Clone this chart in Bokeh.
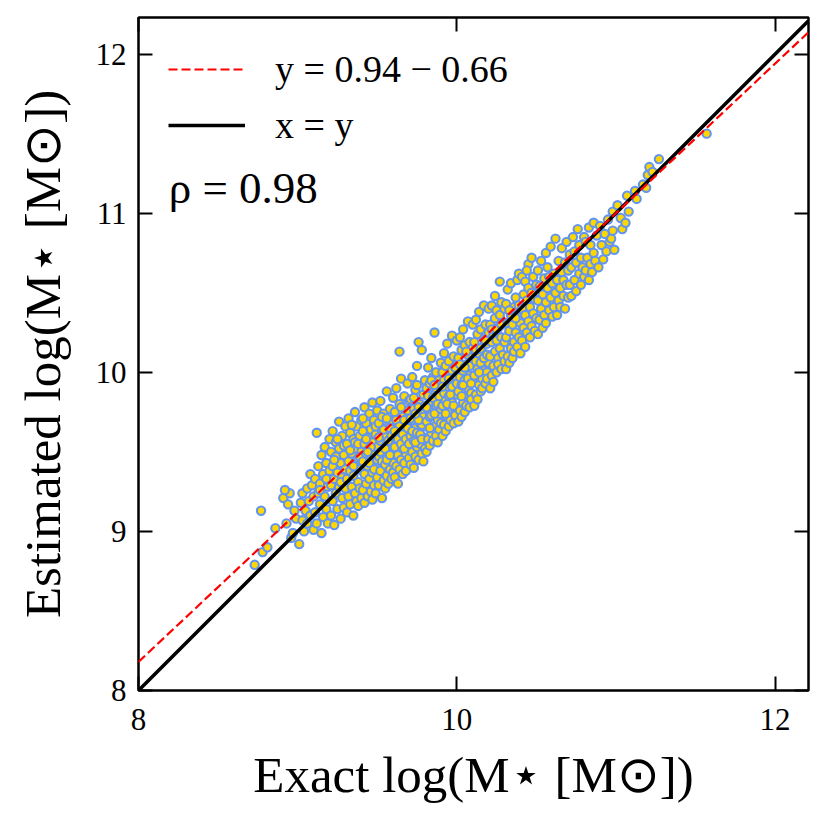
from bokeh.plotting import figure
from bokeh.models import Range1d, LinearAxis, FixedTicker, Legend, LegendItem, Label
from bokeh.embed import file_html
from bokeh.resources import INLINE

# ---- data (log stellar masses) ----
exact_logm = [
    8.73, 8.77, 8.78, 8.86, 8.81,
    8.91, 8.93, 8.95, 8.96, 8.97, 8.98, 8.99, 8.94, 8.92,
    9.01, 9.02, 9.03, 9.03, 9.04, 9.05, 9.06, 9.06, 9.07, 9.08, 9.08, 9.09, 9.10, 9.10,
    9.11, 9.11, 9.12, 9.12, 9.13, 9.13, 9.14, 9.14, 9.15, 9.15, 9.16, 9.16, 9.17, 9.17, 9.18, 9.18, 9.19, 9.19, 9.20, 9.20, 9.14, 9.18,
    9.21, 9.21, 9.21, 9.22, 9.22, 9.22, 9.23, 9.23, 9.24, 9.24, 9.24, 9.25, 9.25, 9.26, 9.26, 9.26, 9.27, 9.27, 9.28, 9.28, 9.28, 9.29, 9.29, 9.30, 9.30, 9.30, 9.23, 9.25, 9.27, 9.29,
    9.31, 9.31, 9.31, 9.32, 9.32, 9.32, 9.33, 9.33, 9.33, 9.34, 9.34, 9.35, 9.35, 9.35, 9.36, 9.36, 9.36, 9.37, 9.37, 9.37, 9.38, 9.38, 9.38, 9.39, 9.39, 9.39, 9.40, 9.40, 9.40, 9.34, 9.36, 9.33, 9.38, 9.35, 9.39,
    9.41, 9.41, 9.41, 9.42, 9.42, 9.42, 9.42, 9.43, 9.43, 9.43, 9.44, 9.44, 9.44, 9.45, 9.45, 9.45, 9.46, 9.46, 9.46, 9.47, 9.47, 9.47, 9.47, 9.48, 9.48, 9.48, 9.49, 9.49, 9.49, 9.50, 9.50, 9.50, 9.43, 9.45, 9.46, 9.48, 9.44, 9.50, 9.41, 9.49,
    9.51, 9.51, 9.51, 9.52, 9.52, 9.52, 9.53, 9.53, 9.53, 9.54, 9.54, 9.54, 9.55, 9.55, 9.55, 9.56, 9.56, 9.56, 9.57, 9.57, 9.57, 9.58, 9.58, 9.58, 9.59, 9.59, 9.59, 9.60, 9.60, 9.60, 9.52, 9.54, 9.55, 9.56, 9.57, 9.58, 9.59, 9.53, 9.56, 9.60, 9.51, 9.58,
    9.61, 9.61, 9.61, 9.62, 9.62, 9.62, 9.63, 9.63, 9.63, 9.64, 9.64, 9.64, 9.65, 9.65, 9.65, 9.66, 9.66, 9.66, 9.67, 9.67, 9.67, 9.68, 9.68, 9.68, 9.69, 9.69, 9.69, 9.70, 9.70, 9.70, 9.62, 9.63, 9.64, 9.65, 9.66, 9.67, 9.68, 9.69, 9.65, 9.67, 9.61, 9.70, 9.64,
    9.71, 9.71, 9.71, 9.72, 9.72, 9.72, 9.73, 9.73, 9.73, 9.74, 9.74, 9.74, 9.75, 9.75, 9.75, 9.76, 9.76, 9.76, 9.77, 9.77, 9.77, 9.78, 9.78, 9.78, 9.79, 9.79, 9.79, 9.80, 9.80, 9.80, 9.72, 9.73, 9.74, 9.75, 9.76, 9.77, 9.78, 9.79, 9.71, 9.75, 9.76, 9.78, 9.80, 9.74,
    9.81, 9.81, 9.81, 9.82, 9.82, 9.82, 9.83, 9.83, 9.83, 9.84, 9.84, 9.84, 9.85, 9.85, 9.85, 9.86, 9.86, 9.86, 9.87, 9.87, 9.87, 9.88, 9.88, 9.88, 9.89, 9.89, 9.89, 9.90, 9.90, 9.90, 9.82, 9.83, 9.84, 9.85, 9.86, 9.87, 9.88, 9.89, 9.81, 9.84, 9.86, 9.90,
    9.91, 9.91, 9.91, 9.92, 9.92, 9.92, 9.93, 9.93, 9.93, 9.94, 9.94, 9.94, 9.95, 9.95, 9.95, 9.96, 9.96, 9.96, 9.97, 9.97, 9.97, 9.98, 9.98, 9.98, 9.99, 9.99, 9.99, 10.00, 10.00, 10.00, 9.92, 9.93, 9.94, 9.95, 9.96, 9.97, 9.98, 9.99, 9.91, 10.00,
    10.01, 10.01, 10.01, 10.02, 10.02, 10.02, 10.03, 10.03, 10.03, 10.04, 10.04, 10.04, 10.05, 10.05, 10.05, 10.06, 10.06, 10.06, 10.07, 10.07, 10.07, 10.08, 10.08, 10.08, 10.09, 10.09, 10.09, 10.10, 10.10, 10.10, 10.02, 10.03, 10.04, 10.06, 10.07, 10.08, 10.09, 10.05,
    10.11, 10.11, 10.11, 10.12, 10.12, 10.12, 10.13, 10.13, 10.13, 10.14, 10.14, 10.14, 10.15, 10.15, 10.15, 10.16, 10.16, 10.16, 10.17, 10.17, 10.17, 10.18, 10.18, 10.18, 10.19, 10.19, 10.19, 10.20, 10.20, 10.20, 10.12, 10.14, 10.15, 10.17, 10.18, 10.19,
    10.21, 10.21, 10.21, 10.22, 10.22, 10.22, 10.23, 10.23, 10.23, 10.24, 10.24, 10.24, 10.25, 10.25, 10.25, 10.26, 10.26, 10.26, 10.27, 10.27, 10.27, 10.28, 10.28, 10.28, 10.29, 10.29, 10.30, 10.30, 10.30, 10.22, 10.25, 10.28,
    10.31, 10.31, 10.31, 10.32, 10.32, 10.32, 10.33, 10.33, 10.34, 10.34, 10.34, 10.35, 10.35, 10.36, 10.36, 10.36, 10.37, 10.37, 10.38, 10.38, 10.38, 10.39, 10.39, 10.39, 10.40, 10.40, 10.33, 10.37,
    10.41, 10.41, 10.41, 10.42, 10.42, 10.43, 10.43, 10.43, 10.44, 10.44, 10.45, 10.45, 10.45, 10.46, 10.46, 10.47, 10.47, 10.47, 10.48, 10.48, 10.49, 10.49, 10.50, 10.50, 10.44,
    10.51, 10.51, 10.51, 10.52, 10.52, 10.53, 10.53, 10.54, 10.54, 10.55, 10.55, 10.56, 10.56, 10.56, 10.57, 10.57, 10.58, 10.58, 10.59, 10.59, 10.60, 10.60,
    10.61, 10.61, 10.62, 10.62, 10.63, 10.63, 10.64, 10.64, 10.65, 10.65, 10.66, 10.66, 10.67, 10.67, 10.68, 10.68, 10.69, 10.69, 10.70, 10.70,
    10.71, 10.71, 10.72, 10.72, 10.73, 10.74, 10.74, 10.75, 10.75, 10.76, 10.77, 10.77, 10.78, 10.78, 10.79, 10.80, 10.80,
    10.81, 10.81, 10.82, 10.83, 10.83, 10.84, 10.84, 10.85, 10.86, 10.86, 10.87, 10.88, 10.89, 10.90,
    10.91, 10.92, 10.93, 10.94, 10.95, 10.96, 10.97, 10.98, 10.98, 10.99,
    11.01, 11.03, 11.04, 11.06, 11.07, 11.08, 11.12, 11.13, 11.17, 11.19, 11.20, 11.21, 11.23, 11.27, 11.57,
]
estimated_logm = [
    8.79, 9.13, 8.87, 9.02, 8.90,
    9.21, 9.05, 9.24, 8.96, 8.99, 9.13, 9.08, 9.17, 9.26,
    8.92, 9.18, 9.07, 9.24, 9.00, 9.13, 9.27, 9.05, 9.19, 9.36, 9.10, 9.29, 9.01, 9.22,
    9.12, 9.33, 9.62, 9.05, 9.24, 9.41, 9.17, 9.30, 8.99, 9.48, 9.09, 9.36, 9.22, 9.53, 9.14, 9.43, 9.28, 9.05, 9.38, 9.58, 9.26, 9.33,
    9.10, 9.29, 9.50, 9.19, 9.41, 9.63, 9.04, 9.33, 9.24, 9.47, 9.56, 9.14, 9.37, 9.28, 9.69, 9.52, 9.08, 9.43, 9.21, 9.34, 9.60, 9.15, 9.48, 9.27, 9.39, 9.66, 9.45, 9.58, 9.31, 9.54,
    9.12, 9.33, 9.55, 9.22, 9.44, 9.71, 9.17, 9.38, 9.62, 9.28, 9.49, 9.10, 9.35, 9.58, 9.24, 9.43, 9.75, 9.19, 9.52, 9.66, 9.31, 9.46, 9.16, 9.39, 9.60, 9.27, 9.50, 9.70, 9.21, 9.67, 9.56, 9.51, 9.55, 9.41, 9.47,
    9.26, 9.44, 9.63, 9.18, 9.36, 9.55, 9.78, 9.30, 9.49, 9.68, 9.22, 9.41, 9.59, 9.33, 9.52, 9.74, 9.25, 9.45, 9.64, 9.37, 9.56, 9.81, 9.20, 9.29, 9.48, 9.70, 9.40, 9.61, 9.24, 9.34, 9.53, 9.76, 9.58, 9.43, 9.53, 9.39, 9.50, 9.45, 9.71, 9.66,
    9.29, 9.47, 9.68, 9.38, 9.57, 9.82, 9.21, 9.44, 9.63, 9.32, 9.51, 9.74, 9.27, 9.42, 9.60, 9.35, 9.55, 9.88, 9.46, 9.66, 9.30, 9.39, 9.58, 9.77, 9.33, 9.49, 9.70, 9.43, 9.62, 9.84, 9.50, 9.64, 9.52, 9.45, 9.57, 9.48, 9.60, 9.72, 9.71, 9.37, 9.59, 9.65,
    9.34, 9.53, 9.75, 9.41, 9.62, 9.90, 9.30, 9.48, 9.68, 9.39, 9.57, 9.80, 9.45, 9.64, 9.96, 9.36, 9.52, 9.72, 9.43, 9.60, 9.85, 9.49, 9.67, 9.38, 9.55, 9.76, 9.93, 9.46, 9.63, 9.82, 9.70, 9.58, 9.66, 9.55, 9.61, 9.52, 9.58, 9.65, 9.78, 9.70, 9.63, 9.55, 10.13,
    9.42, 9.60, 9.83, 9.50, 9.70, 9.97, 9.40, 9.57, 9.77, 9.47, 9.65, 9.89, 9.53, 9.73, 10.04, 9.45, 9.62, 10.19, 9.55, 9.80, 9.68, 9.49, 9.74, 10.14, 9.59, 9.86, 9.44, 9.66, 9.95, 9.52, 9.63, 9.84, 9.56, 9.62, 9.78, 9.61, 9.67, 9.72, 9.71, 9.92, 9.70, 9.58, 9.79, 9.74,
    9.50, 9.69, 9.90, 9.58, 9.77, 10.03, 9.54, 9.72, 9.93, 9.62, 9.81, 10.09, 9.57, 9.75, 9.97, 9.66, 9.86, 10.25, 9.60, 9.79, 10.00, 9.70, 9.89, 9.56, 9.74, 9.95, 9.64, 9.83, 10.06, 9.68, 9.85, 9.65, 9.73, 9.84, 9.74, 9.90, 9.80, 9.85, 9.78, 9.95, 9.92, 9.77,
    9.60, 9.79, 10.00, 9.67, 9.87, 10.12, 9.63, 9.82, 10.04, 9.72, 9.91, 10.18, 9.66, 9.85, 10.07, 9.75, 9.95, 9.70, 9.81, 10.01, 10.23, 9.68, 9.89, 10.10, 9.77, 9.97, 9.73, 9.86, 10.05, 10.20, 9.95, 9.74, 9.80, 9.96, 9.86, 9.91, 9.79, 10.03, 9.91, 9.93,
    9.69, 9.88, 10.09, 9.76, 9.97, 10.22, 9.72, 9.92, 10.14, 9.81, 10.01, 10.27, 9.75, 9.95, 10.17, 9.85, 10.05, 9.79, 9.90, 10.11, 10.32, 9.78, 9.98, 10.19, 9.87, 10.07, 9.83, 9.94, 10.15, 10.30, 10.05, 9.85, 9.92, 10.13, 9.96, 10.04, 9.93, 10.03,
    9.79, 9.98, 10.19, 9.86, 10.07, 10.33, 9.83, 10.02, 10.24, 9.92, 10.12, 10.38, 9.88, 10.06, 10.27, 9.96, 10.16, 9.90, 10.01, 10.21, 10.42, 9.93, 10.10, 10.30, 10.00, 10.18, 9.96, 10.06, 10.25, 10.40, 10.14, 10.00, 10.15, 10.09, 10.20, 10.11,
    9.90, 10.10, 10.30, 9.98, 10.19, 10.42, 10.04, 10.24, 9.94, 10.13, 10.34, 10.48, 10.00, 10.20, 10.39, 10.09, 10.28, 10.05, 10.15, 10.57, 10.36, 10.02, 10.22, 10.44, 10.11, 10.31, 10.07, 10.19, 10.40, 10.27, 10.27, 10.30,
    10.02, 10.22, 10.43, 10.10, 10.31, 10.52, 10.06, 10.26, 10.15, 10.36, 10.56, 10.09, 10.30, 10.19, 10.41, 10.13, 10.25, 10.47, 10.16, 10.35, 10.58, 10.62, 10.22, 10.42, 10.12, 10.31, 10.39, 10.34,
    10.20, 10.40, 10.60, 10.28, 10.49, 10.16, 10.36, 10.57, 10.25, 10.45, 10.32, 10.53, 10.68, 10.22, 10.41, 10.29, 10.50, 10.72, 10.37, 10.60, 10.26, 10.46, 10.34, 10.55, 10.64,
    10.24, 10.45, 10.64, 10.33, 10.54, 10.40, 10.70, 10.28, 10.49, 10.36, 10.59, 10.44, 10.75, 10.31, 10.53, 10.66, 10.39, 10.60, 10.79, 10.47, 10.35, 10.56,
    10.41, 10.62, 10.84, 10.50, 10.36, 10.58, 10.45, 10.70, 10.53, 10.41, 10.63, 10.78, 10.48, 10.58, 10.40, 10.69, 10.55, 10.82, 10.47, 10.64,
    10.55, 10.74, 10.48, 10.66, 10.85, 10.58, 10.76, 10.51, 10.69, 10.90, 10.62, 10.80, 10.55, 10.72, 10.66, 10.85, 10.60,
    10.64, 10.82, 10.72, 10.58, 10.91, 10.68, 10.80, 10.63, 10.94, 10.75, 10.70, 10.86, 10.66, 10.92,
    10.80, 10.71, 10.87, 10.76, 10.96, 10.82, 10.84, 10.89, 11.01, 10.77,
    11.05, 10.97, 10.90, 10.94, 11.11, 11.01, 11.14, 11.09, 11.18, 11.16, 11.24, 11.29, 11.26, 11.34, 11.50,
]
assert len(exact_logm) == len(estimated_logm)

x_limits = [8.0, 12.21]
y_limits = [8.0, 12.23]
x_ticks = [8, 10, 12]
y_ticks = [8, 9, 10, 11, 12]
fit_slope = 0.94
fit_intercept = 0.66
rho_text = "ρ = 0.98"
fit_label = "y = 0.94 − 0.66"
identity_label = "x = y"

FONT = "Liberation Serif"

p = figure(frame_width=670, frame_height=673,
           x_range=Range1d(*x_limits), y_range=Range1d(*y_limits),
           output_backend="svg", toolbar_location=None,
           min_border_left=138, min_border_top=17, min_border_right=6, min_border_bottom=112)
p.background_fill_color = "white"
p.border_fill_color = "white"
p.outline_line_color = "black"
p.outline_line_width = 2.5
p.grid.visible = False

# scatter
p.scatter(exact_logm, estimated_logm, size=8.3, fill_color="#FFD700",
          line_color="#6495ED", line_width=2.1)

# lines
r_black = p.line(x_limits, x_limits, line_color="black", line_width=3.5)
fit_y = [fit_slope * v + fit_intercept for v in x_limits]
r_red = p.line(x_limits, fit_y, line_color="red", line_width=2.2, line_dash="9 4")

def style_axis(ax, ticks, show_labels):
    ax.axis_line_color = None
    if show_labels:
        ax.ticker = FixedTicker(ticks=ticks)
        ax.minor_tick_line_color = None
        ax.major_tick_in = 14
        ax.major_tick_out = 0
        ax.major_tick_line_width = 2
        ax.major_tick_line_color = "black"
        ax.major_label_text_font = FONT
        ax.major_label_text_color = "black"
        ax.major_label_text_font_size = "31px"
        ax.axis_label_text_font = FONT
        ax.axis_label_text_font_size = "51px"
        ax.axis_label_text_font_style = "normal"
        ax.axis_label_text_color = "black"
    else:
        # ticks only (drawn as unlabeled minor ticks)
        ax.ticker = FixedTicker(ticks=[], minor_ticks=ticks)
        ax.major_tick_line_color = None
        ax.minor_tick_in = 14
        ax.minor_tick_out = 0
        ax.minor_tick_line_width = 2
        ax.minor_tick_line_color = "black"

style_axis(p.xaxis[0], x_ticks, True)
style_axis(p.yaxis[0], y_ticks, True)
p.xaxis[0].axis_label = "Exact log(M⋆ [M⊙])"
p.yaxis[0].axis_label = "Estimated log(M⋆ [M⊙])"
p.xaxis[0].major_label_standoff = 18
p.xaxis[0].axis_label_standoff = 14
p.yaxis[0].major_label_standoff = 12
p.yaxis[0].axis_label_standoff = 22

top_ax = LinearAxis()
right_ax = LinearAxis()
style_axis(top_ax, x_ticks, False)
style_axis(right_ax, y_ticks, False)
p.add_layout(top_ax, "above")
p.add_layout(right_ax, "right")

legend = Legend(items=[LegendItem(label=fit_label, renderers=[r_red]),
                       LegendItem(label=identity_label, renderers=[r_black])],
                location="top_left", margin=30, padding=0,
                glyph_width=77, glyph_height=40, label_height=40,
                spacing=12, label_standoff=30,
                border_line_color=None, background_fill_alpha=0,
                label_text_font=FONT, label_text_font_size="38px",
                label_text_color="black")
p.add_layout(legend)

p.add_layout(Label(x=8.19, y=11.16, text=rho_text, text_baseline="middle",
                   text_font=FONT, text_font_size="45px", text_color="black"))

open("out.html", "w").write(file_html(p, INLINE))
